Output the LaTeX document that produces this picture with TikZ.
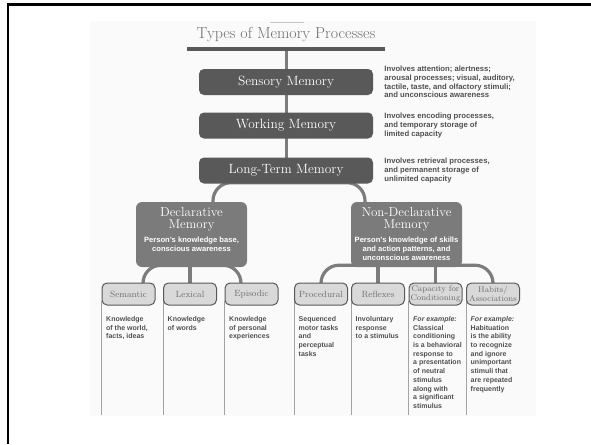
\documentclass[tikz,border=0pt]{standalone}
\usepackage{fontspec}
\setsansfont{Liberation Sans}
\usepackage{xcolor}
\usepackage{tikz}
\usetikzlibrary{positioning}
\definecolor{memdark}{HTML}{595959}
\definecolor{memmid}{HTML}{7B7B7B}
\definecolor{memlight}{HTML}{D9D9D9}
\definecolor{memline}{HTML}{7C7C7C}
\definecolor{memtext}{HTML}{505050}
\definecolor{memgrey}{HTML}{6E6E6E}
\definecolor{memstem}{HTML}{A3A3A3}
\pgfdeclarelayer{background}
\pgfsetlayers{background,main}

\tikzset{
  topbox/.style={fill=memdark, rounded corners=5pt, minimum width=174pt,
    minimum height=26pt, inner sep=0pt, text=white,
    font=\fontsize{13.4}{15}\selectfont},
  midbox/.style={fill=memmid, rounded corners=6pt, minimum width=111pt,
    minimum height=65pt, inner sep=0pt},
  midtitle/.style={text=white, align=center, inner sep=0pt,
    font=\fontsize{13}{12}\selectfont},
  midnote/.style={text=white, align=center, inner sep=0pt,
    font=\fontsize{7.6}{9.2}\selectfont\sffamily\bfseries},
  leafbox/.style={fill=memlight, draw=memdark, line width=1pt,
    rounded corners=5pt, minimum width=53pt, minimum height=22pt,
    inner sep=0pt, align=center, text=memgrey,
    font=\fontsize{9}{8.3}\selectfont},
  leafsmall/.style={font=\fontsize{8.3}{8.3}\selectfont},
  sidenote/.style={anchor=west, align=left, inner sep=0pt, text=memtext,
    font=\fontsize{7.7}{8.8}\selectfont\sffamily\bfseries},
  leafnote/.style={anchor=north west, align=left, inner sep=0pt, text=memtext,
    font=\fontsize{7}{8.7}\selectfont\sffamily\bfseries},
  trunk/.style={draw=memline, line width=3pt},
  branch/.style={draw=memline, line width=3.2pt},
  stem/.style={draw=memstem, line width=0.8pt},
}

\begin{document}
\begin{tikzpicture}[x=1pt,y=-1pt]
  \useasboundingbox (0,0) rectangle (591,444);
  \draw[black, line width=2.5pt] (8,444) -- (8,4.5) -- (591,4.5);

  \node[text=memgrey, anchor=base, inner sep=0pt,
    font=\fontsize{16}{18}\selectfont] (title) at (286,39)
    {Types of Memory Processes};
  \coordinate (capleft) at (270,22);
  \coordinate (capright) at (304,22);
  \draw[draw=black!22, line width=0.8pt] (capleft) -- (capright);
  \coordinate (barleft) at (187,49);
  \coordinate (barright) at (385,49);
  \draw[draw=memdark, line width=4pt] (barleft) -- (barright);

  \node[topbox] (sensory) at (286,82) {Sensory Memory};
  \node[topbox] (working) at (286,125.5) {Working Memory};
  \node[topbox] (ltm) at (286,170.5) {Long-Term Memory};

  \node[sidenote, right=11pt of sensory] (sensorynote)
    {Involves attention; alertness;\\arousal processes; visual, auditory,\\
     tactile, taste, and olfactory stimuli;\\and unconscious awareness};
  \node[sidenote, right=11pt of working] (workingnote)
    {Involves encoding processes,\\and temporary storage of\\limited capacity};
  \node[sidenote, right=11pt of ltm] (ltmnote)
    {Involves retrieval processes,\\and permanent storage of\\unlimited capacity};

  \node[midbox] (decl) at (191.5,234.5) {};
  \node[midtitle, below=5pt of decl.north] (decltitle) {Declarative\\Memory};
  \node[midnote, below=5.5pt of decltitle] (declnote)
    {Person's knowledge base,\\conscious awareness};
  \node[midbox] (nondecl) at (406.5,234.5) {};
  \node[midtitle, below=5pt of nondecl.north] (nondecltitle)
    {Non-Declarative\\Memory};
  \node[midnote, below=5.5pt of nondecltitle] (nondeclnote)
    {Person's knowledge of skills\\and action patterns, and\\unconscious awareness};

  \node[leafbox] (semantic) at (128.5,294) {Semantic};
  \node[leafbox] (lexical) at (190,294) {Lexical};
  \node[leafbox] (episodic) at (251.5,294) {Episodic};
  \node[leafbox] (procedural) at (321,294) {Procedural};
  \node[leafbox] (reflexes) at (378,294) {Reflexes};
  \node[leafbox, leafsmall] (capacity) at (435.5,294) {Capacity for\\Conditioning};
  \node[leafbox, leafsmall] (habits) at (493,294) {Habits/\\Associations};

  \node[leafnote] (semanticnote) at ([xshift=4.5pt,yshift=-10.7pt]semantic.south west)
    {Knowledge\\of the world,\\facts, ideas};
  \node[leafnote] (lexicalnote) at ([xshift=4.5pt,yshift=-10.7pt]lexical.south west)
    {Knowledge\\of words};
  \node[leafnote] (episodicnote) at ([xshift=4.5pt,yshift=-10.7pt]episodic.south west)
    {Knowledge\\of personal\\experiences};
  \node[leafnote] (proceduralnote) at ([xshift=4.5pt,yshift=-10.7pt]procedural.south west)
    {Sequenced\\motor tasks\\and\\perceptual\\tasks};
  \node[leafnote] (reflexesnote) at ([xshift=4.5pt,yshift=-10.7pt]reflexes.south west)
    {Involuntary\\response\\to a stimulus};
  \node[leafnote] (capacitynote) at ([xshift=4.5pt,yshift=-10.7pt]capacity.south west)
    {\textit{For example:}\\Classical\\conditioning\\is a behavioral\\response to\\
     a presentation\\of neutral\\stimulus\\along with\\a significant\\stimulus};
  \node[leafnote] (habitsnote) at ([xshift=4.5pt,yshift=-10.7pt]habits.south west)
    {\textit{For example:}\\Habituation\\is the ability\\to recognize\\and ignore\\
     unimportant\\stimuli that\\are repeated\\frequently};

  \begin{pgfonlayer}{background}
    \fill[black!2] (90,21) rectangle (536,416);
    \draw[trunk] (sensory.north |- barleft) -- (ltm.center);
    \draw[branch, rounded corners=18pt] (decl.north -| 213,0)
      |- ([yshift=1pt]ltm.south) -| (nondecl.north -| 365,0);
    \draw[branch, rounded corners=18pt] (semantic.north -| 143,0)
      |- ([yshift=2pt]decl.south) -| (episodic.north -| 241,0);
    \draw[branch] (lexical.north) -- (decl.south -| lexical.north);
    \draw[branch, rounded corners=18pt] (procedural.north)
      |- ([yshift=2pt]nondecl.south) -| (habits.north);
    \draw[branch] (reflexes.north) -- (nondecl.south -| reflexes.north);
    \draw[branch] (capacity.north) -- (nondecl.south -| capacity.north);
    \draw[stem] ([yshift=5pt]semantic.south west) -- (semantic.south west |- 0,415);
    \draw[stem] ([yshift=5pt]lexical.south west) -- (lexical.south west |- 0,415);
    \draw[stem] ([yshift=5pt]episodic.south west) -- (episodic.south west |- 0,415);
    \draw[stem] ([yshift=5pt]procedural.south west) -- (procedural.south west |- 0,415);
    \draw[stem] ([yshift=5pt]reflexes.south west) -- (reflexes.south west |- 0,415);
    \draw[stem] ([yshift=5pt]capacity.south west) -- (capacity.south west |- 0,415);
    \draw[stem] ([yshift=5pt]habits.south west) -- (habits.south west |- 0,415);
  \end{pgfonlayer}
\end{tikzpicture}
\end{document}
